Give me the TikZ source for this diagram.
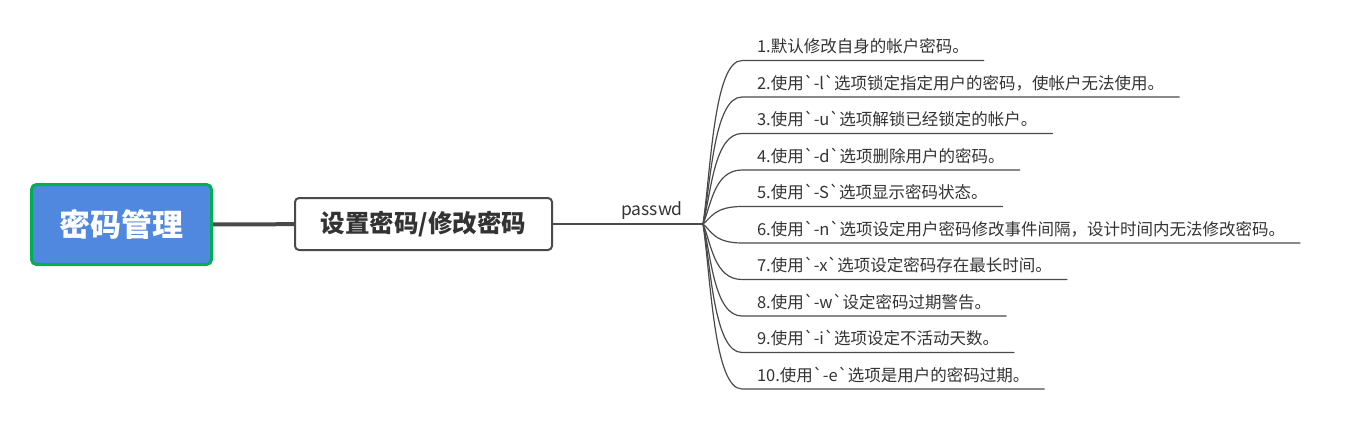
\documentclass[tikz,border=0pt]{standalone}
\usepackage{fontspec}
\setmainfont{Noto Sans CJK SC}
\newcommand{\bq}{\textasciigrave}
\definecolor{rootblue}{HTML}{5088E0}
\definecolor{rootgreen}{HTML}{00B050}
\definecolor{linegray}{HTML}{4A4A4A}
\definecolor{textgray}{HTML}{333333}
\begin{document}
\begin{tikzpicture}[x=1pt,y=-1pt,line join=round,line cap=round]
	\tikzset{root/.style={draw=rootgreen,line width=3pt,fill=rootblue,rounded corners=5pt,minimum width=180pt,minimum height=80pt,text=white,font=\fontsize{31}{31}\selectfont\bfseries},
		sub/.style={draw=linegray,line width=2pt,fill=white,rounded corners=4pt,minimum width=257pt,minimum height=52pt,text=textgray,font=\fontsize{24.5}{24.5}\selectfont\bfseries},
		leaf/.style={anchor=south west,inner xsep=15pt,inner ysep=8pt,text depth=0pt,outer sep=0pt,text=textgray,font=\fontsize{16.5}{16.5}\selectfont},
		branch/.style={draw=linegray,line width=1.2pt}}
	\useasboundingbox (0,0) rectangle (1359,445);
	\node[root] (root) at (121.5,224.5) {密码管理};
	\node[sub] (pwd) at (423.5,224) {设置密码/修改密码};
	\coordinate (fork) at (703,224);
	\draw[linegray,line width=4pt,line cap=butt] (root) -- (pwd);
	\draw[branch] (pwd) -- (fork) node[pos=0.66,above=1pt,text=textgray,font=\fontsize{17.5}{17.5}\selectfont] (cmd) {passwd};
	% leaves
	\foreach \i/\t in {1/默认修改自身的帐户密码。,
		2/使用\bq-l\bq 选项锁定指定用户的密码，使帐户无法使用。,
		3/使用\bq-u\bq 选项解锁已经锁定的帐户。,
		4/使用\bq-d\bq 选项删除用户的密码。,
		5/使用\bq-S\bq 选项显示密码状态。,
		6/使用\bq-n\bq 选项设定用户密码修改事件间隔，设计时间内无法修改密码。,
		7/使用\bq-x\bq 选项设定密码存在最长时间。,
		8/使用\bq-w\bq 设定密码过期警告。,
		9/使用\bq-i\bq 选项设定不活动天数。,
		10/使用\bq-e\bq 选项是用户的密码过期。}{
		\pgfmathsetmacro{\yy}{60.5+36.5*(\i-1)}
		\pgfmathsetmacro{\dy}{(\yy-224)/3}
		\node[leaf] (l\i) at (742,\yy) {\i.\t};
		\draw[branch] (fork) .. controls +(8,\dy) and +(-28,0) .. (l\i.south west) -- (l\i.south east);
	}
\end{tikzpicture}
\end{document}
